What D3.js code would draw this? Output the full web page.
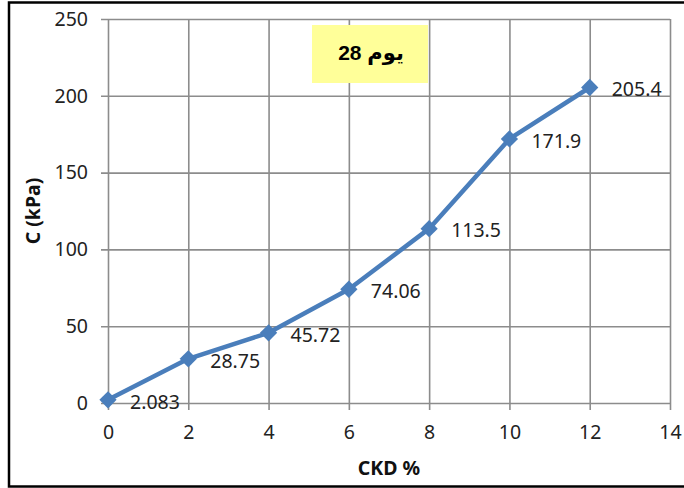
<!DOCTYPE html>
<html>
<head>
<meta charset="utf-8">
<script src="https://cdn.jsdelivr.net/npm/d3@7"></script>
<style>
  html, body { margin: 0; padding: 0; background: #fff; }
  svg { display: block; }
</style>
</head>
<body>
<script>
// CKD content (%) and cohesion C (kPa) after 28 days of curing
const ckd = [0, 2, 4, 6, 8, 10, 12];
const cohesion = [2.083, 28.75, 45.72, 74.06, 113.5, 171.9, 205.4];
const valueLabels = ["2.083", "28.75", "45.72", "74.06", "113.5", "171.9", "205.4"];
const xTicks = [0, 2, 4, 6, 8, 10, 12, 14];
const yTicks = [0, 50, 100, 150, 200, 250];
const xTitle = "CKD %";
const yTitle = "C (kPa)";
const tag = "يوم 28";

const W = 684, H = 488;
const margin = { top: 19, right: 14, bottom: 85, left: 108 };
const iw = W - margin.left - margin.right;
const ih = H - margin.top - margin.bottom;

const svg = d3.select("body").append("svg")
  .attr("width", W).attr("height", H);

// outer chart frame
svg.append("rect")
  .attr("x", 9).attr("y", 2.5)
  .attr("width", W + 20).attr("height", 484)
  .attr("fill", "#fff").attr("stroke", "#000").attr("stroke-width", 2.5);

const g = svg.append("g").attr("transform", `translate(${margin.left},${margin.top})`);

const x = d3.scaleLinear().domain([0, 14]).range([0, iw]);
const y = d3.scaleLinear().domain([0, 250]).range([ih, 0]);

const gridColor = "#8c8c8c";
const tickFont = "'Noto Sans', 'Open Sans', sans-serif";

// horizontal gridlines + y tick labels
const yAxis = g.append("g")
  .call(d3.axisLeft(y).tickValues(yTicks).tickSizeOuter(0));
yAxis.select(".domain").remove();
yAxis.selectAll(".tick line")
  .attr("x1", -7).attr("x2", iw)
  .attr("stroke", gridColor).attr("stroke-width", 1.6);
yAxis.selectAll(".tick text")
  .attr("x", -20)
  .attr("font-family", tickFont).attr("font-size", 19.5).attr("fill", "#222");

// vertical gridlines + x tick labels
const xAxis = g.append("g").attr("transform", `translate(0,${ih})`)
  .call(d3.axisBottom(x).tickValues(xTicks).tickSizeOuter(0));
xAxis.select(".domain").remove();
xAxis.selectAll(".tick line")
  .attr("y1", -ih).attr("y2", 7)
  .attr("stroke", gridColor).attr("stroke-width", 1.6);
xAxis.selectAll(".tick text")
  .attr("y", 22)
  .attr("font-family", tickFont).attr("font-size", 19.5).attr("fill", "#222");

// data series
const pts = ckd.map((c, i) => ({ x: c, y: cohesion[i], label: valueLabels[i] }));
const lineColor = "#4a7ebb";

g.append("path")
  .datum(pts)
  .attr("fill", "none")
  .attr("stroke", lineColor)
  .attr("stroke-width", 4.5)
  .attr("stroke-linejoin", "round")
  .attr("d", d3.line().x(d => x(d.x)).y(d => y(d.y)));

g.selectAll(".marker")
  .data(pts).enter().append("path")
  .attr("class", "marker")
  .attr("transform", d => `translate(${x(d.x)},${y(d.y)})`)
  .attr("d", d3.symbol().type(d3.symbolDiamond2).size(190))
  .attr("fill", lineColor);

// value labels, to the right of each point
g.selectAll(".vlabel")
  .data(pts).enter().append("text")
  .attr("class", "vlabel")
  .attr("x", d => x(d.x) + 22)
  .attr("y", d => y(d.y) + 2)
  .attr("dy", "0.35em")
  .attr("font-family", tickFont).attr("font-size", 19.5).attr("fill", "#222")
  .text(d => d.label);

// axis titles
svg.append("text")
  .attr("x", margin.left + iw / 2).attr("y", 468)
  .attr("dy", "0.35em")
  .attr("text-anchor", "middle")
  .attr("font-family", tickFont).attr("font-weight", "bold").attr("font-size", 19.5).attr("fill", "#111")
  .text(xTitle);

svg.append("text")
  .attr("transform", `translate(33,${margin.top + ih / 2}) rotate(-90)`)
  .attr("dy", "0.35em")
  .attr("text-anchor", "middle")
  .attr("font-family", tickFont).attr("font-weight", "bold").attr("font-size", 19.5).attr("fill", "#111")
  .text(yTitle);

// curing-age tag
svg.append("rect")
  .attr("x", 312).attr("y", 25).attr("width", 116).attr("height", 58)
  .attr("fill", "#ffff99");
svg.append("text")
  .attr("x", 371).attr("y", 53)
  .attr("dy", "0.35em")
  .attr("text-anchor", "middle")
  .attr("font-family", "'Liberation Sans', 'DejaVu Sans', sans-serif")
  .attr("font-weight", "bold").attr("font-size", 21).attr("fill", "#000")
  .text(tag);
</script>
</body>
</html>
